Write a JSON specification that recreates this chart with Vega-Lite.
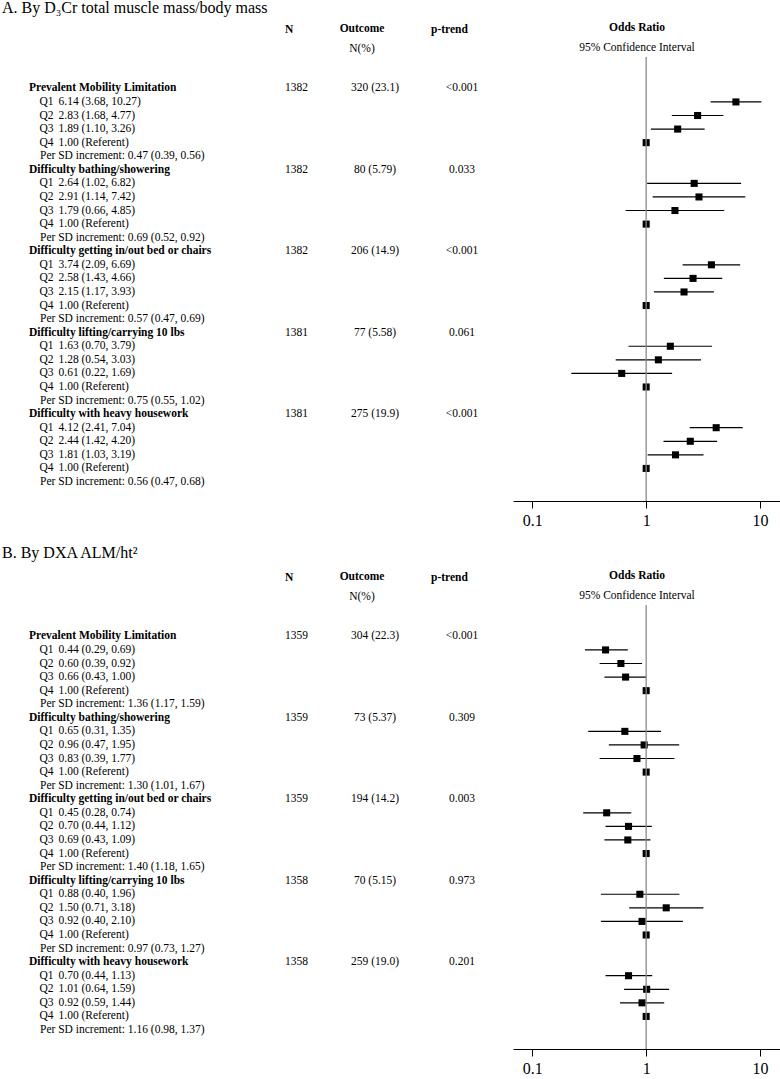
{
  "$schema": "https://vega.github.io/schema/vega-lite/v6.json",
  "padding": {"left": 2, "top": 0, "right": 0, "bottom": 0},
  "config": {
    "font": "Liberation Serif",
    "view": {"stroke": null},
    "text": {"font": "Liberation Serif", "fontSize": 11.5, "color": "black", "baseline": "middle"},
    "title": {"font": "Liberation Serif", "subtitleFont": "Liberation Serif", "color": "black", "subtitleColor": "black", "fontSize": 11.5, "subtitleFontSize": 11.5, "fontWeight": "bold"}
  },
  "datasets": {
    "A": [
      {"id": 1, "type": "h", "label": "Prevalent Mobility Limitation", "n": "1382", "outcome": "320 (23.1)", "p": "<0.001"},
      {"id": 2, "type": "q", "label": "Q1", "ci": "6.14 (3.68, 10.27)", "est": 6.14, "lo": 3.68, "hi": 10.27},
      {"id": 3, "type": "q", "label": "Q2", "ci": "2.83 (1.68, 4.77)", "est": 2.83, "lo": 1.68, "hi": 4.77},
      {"id": 4, "type": "q", "label": "Q3", "ci": "1.89 (1.10, 3.26)", "est": 1.89, "lo": 1.10, "hi": 3.26},
      {"id": 5, "type": "q", "label": "Q4", "ci": "1.00 (Referent)", "est": 1.00},
      {"id": 6, "type": "sd", "label": "Per SD increment: 0.47 (0.39, 0.56)"},
      {"id": 7, "type": "h", "label": "Difficulty bathing/showering", "n": "1382", "outcome": "80 (5.79)", "p": "0.033"},
      {"id": 8, "type": "q", "label": "Q1", "ci": "2.64 (1.02, 6.82)", "est": 2.64, "lo": 1.02, "hi": 6.82},
      {"id": 9, "type": "q", "label": "Q2", "ci": "2.91 (1.14, 7.42)", "est": 2.91, "lo": 1.14, "hi": 7.42},
      {"id": 10, "type": "q", "label": "Q3", "ci": "1.79 (0.66, 4.85)", "est": 1.79, "lo": 0.66, "hi": 4.85},
      {"id": 11, "type": "q", "label": "Q4", "ci": "1.00 (Referent)", "est": 1.00},
      {"id": 12, "type": "sd", "label": "Per SD increment: 0.69 (0.52, 0.92)"},
      {"id": 13, "type": "h", "label": "Difficulty getting in/out bed or chairs", "n": "1382", "outcome": "206 (14.9)", "p": "<0.001"},
      {"id": 14, "type": "q", "label": "Q1", "ci": "3.74 (2.09, 6.69)", "est": 3.74, "lo": 2.09, "hi": 6.69},
      {"id": 15, "type": "q", "label": "Q2", "ci": "2.58 (1.43, 4.66)", "est": 2.58, "lo": 1.43, "hi": 4.66},
      {"id": 16, "type": "q", "label": "Q3", "ci": "2.15 (1.17, 3.93)", "est": 2.15, "lo": 1.17, "hi": 3.93},
      {"id": 17, "type": "q", "label": "Q4", "ci": "1.00 (Referent)", "est": 1.00},
      {"id": 18, "type": "sd", "label": "Per SD increment: 0.57 (0.47, 0.69)"},
      {"id": 19, "type": "h", "label": "Difficulty lifting/carrying 10 lbs", "n": "1381", "outcome": "77 (5.58)", "p": "0.061"},
      {"id": 20, "type": "q", "label": "Q1", "ci": "1.63 (0.70, 3.79)", "est": 1.63, "lo": 0.70, "hi": 3.79},
      {"id": 21, "type": "q", "label": "Q2", "ci": "1.28 (0.54, 3.03)", "est": 1.28, "lo": 0.54, "hi": 3.03},
      {"id": 22, "type": "q", "label": "Q3", "ci": "0.61 (0.22, 1.69)", "est": 0.61, "lo": 0.22, "hi": 1.69},
      {"id": 23, "type": "q", "label": "Q4", "ci": "1.00 (Referent)", "est": 1.00},
      {"id": 24, "type": "sd", "label": "Per SD increment: 0.75 (0.55, 1.02)"},
      {"id": 25, "type": "h", "label": "Difficulty with heavy housework", "n": "1381", "outcome": "275 (19.9)", "p": "<0.001"},
      {"id": 26, "type": "q", "label": "Q1", "ci": "4.12 (2.41, 7.04)", "est": 4.12, "lo": 2.41, "hi": 7.04},
      {"id": 27, "type": "q", "label": "Q2", "ci": "2.44 (1.42, 4.20)", "est": 2.44, "lo": 1.42, "hi": 4.20},
      {"id": 28, "type": "q", "label": "Q3", "ci": "1.81 (1.03, 3.19)", "est": 1.81, "lo": 1.03, "hi": 3.19},
      {"id": 29, "type": "q", "label": "Q4", "ci": "1.00 (Referent)", "est": 1.00},
      {"id": 30, "type": "sd", "label": "Per SD increment: 0.56 (0.47, 0.68)"}
    ],
    "B": [
      {"id": 1, "type": "h", "label": "Prevalent Mobility Limitation", "n": "1359", "outcome": "304 (22.3)", "p": "<0.001"},
      {"id": 2, "type": "q", "label": "Q1", "ci": "0.44 (0.29, 0.69)", "est": 0.44, "lo": 0.29, "hi": 0.69},
      {"id": 3, "type": "q", "label": "Q2", "ci": "0.60 (0.39, 0.92)", "est": 0.60, "lo": 0.39, "hi": 0.92},
      {"id": 4, "type": "q", "label": "Q3", "ci": "0.66 (0.43, 1.00)", "est": 0.66, "lo": 0.43, "hi": 1.00},
      {"id": 5, "type": "q", "label": "Q4", "ci": "1.00 (Referent)", "est": 1.00},
      {"id": 6, "type": "sd", "label": "Per SD increment: 1.36 (1.17, 1.59)"},
      {"id": 7, "type": "h", "label": "Difficulty bathing/showering", "n": "1359", "outcome": "73 (5.37)", "p": "0.309"},
      {"id": 8, "type": "q", "label": "Q1", "ci": "0.65 (0.31, 1.35)", "est": 0.65, "lo": 0.31, "hi": 1.35},
      {"id": 9, "type": "q", "label": "Q2", "ci": "0.96 (0.47, 1.95)", "est": 0.96, "lo": 0.47, "hi": 1.95},
      {"id": 10, "type": "q", "label": "Q3", "ci": "0.83 (0.39, 1.77)", "est": 0.83, "lo": 0.39, "hi": 1.77},
      {"id": 11, "type": "q", "label": "Q4", "ci": "1.00 (Referent)", "est": 1.00},
      {"id": 12, "type": "sd", "label": "Per SD increment: 1.30 (1.01, 1.67)"},
      {"id": 13, "type": "h", "label": "Difficulty getting in/out bed or chairs", "n": "1359", "outcome": "194 (14.2)", "p": "0.003"},
      {"id": 14, "type": "q", "label": "Q1", "ci": "0.45 (0.28, 0.74)", "est": 0.45, "lo": 0.28, "hi": 0.74},
      {"id": 15, "type": "q", "label": "Q2", "ci": "0.70 (0.44, 1.12)", "est": 0.70, "lo": 0.44, "hi": 1.12},
      {"id": 16, "type": "q", "label": "Q3", "ci": "0.69 (0.43, 1.09)", "est": 0.69, "lo": 0.43, "hi": 1.09},
      {"id": 17, "type": "q", "label": "Q4", "ci": "1.00 (Referent)", "est": 1.00},
      {"id": 18, "type": "sd", "label": "Per SD increment: 1.40 (1.18, 1.65)"},
      {"id": 19, "type": "h", "label": "Difficulty lifting/carrying 10 lbs", "n": "1358", "outcome": "70 (5.15)", "p": "0.973"},
      {"id": 20, "type": "q", "label": "Q1", "ci": "0.88 (0.40, 1.96)", "est": 0.88, "lo": 0.40, "hi": 1.96},
      {"id": 21, "type": "q", "label": "Q2", "ci": "1.50 (0.71, 3.18)", "est": 1.50, "lo": 0.71, "hi": 3.18},
      {"id": 22, "type": "q", "label": "Q3", "ci": "0.92 (0.40, 2.10)", "est": 0.92, "lo": 0.40, "hi": 2.10},
      {"id": 23, "type": "q", "label": "Q4", "ci": "1.00 (Referent)", "est": 1.00},
      {"id": 24, "type": "sd", "label": "Per SD increment: 0.97 (0.73, 1.27)"},
      {"id": 25, "type": "h", "label": "Difficulty with heavy housework", "n": "1358", "outcome": "259 (19.0)", "p": "0.201"},
      {"id": 26, "type": "q", "label": "Q1", "ci": "0.70 (0.44, 1.13)", "est": 0.70, "lo": 0.44, "hi": 1.13},
      {"id": 27, "type": "q", "label": "Q2", "ci": "1.01 (0.64, 1.59)", "est": 1.01, "lo": 0.64, "hi": 1.59},
      {"id": 28, "type": "q", "label": "Q3", "ci": "0.92 (0.59, 1.44)", "est": 0.92, "lo": 0.59, "hi": 1.44},
      {"id": 29, "type": "q", "label": "Q4", "ci": "1.00 (Referent)", "est": 1.00},
      {"id": 30, "type": "sd", "label": "Per SD increment: 1.16 (0.98, 1.37)"}
    ]
  },
  "vconcat": [
    {
      "title": {"text": "A. By D₃Cr total muscle mass/body mass", "anchor": "start", "fontSize": 16, "fontWeight": "normal", "offset": 6, "dx": -27},
      "data": {"name": "A"},
      "spacing": 0,
      "bounds": "flush",
      "hconcat": [
        {
          "width": 256, "height": 444,
          "encoding": {
            "y": {"field": "id", "type": "quantitative", "axis": null, "scale": {"domain": [-1.31, 31.4], "reverse": true, "nice": false, "zero": false}},
            "x": {"datum": 0, "type": "quantitative", "axis": null, "scale": {"domain": [0, 1]}}
          },
          "layer": [
            {"transform": [{"filter": "datum.type == 'h'"}], "mark": {"type": "text", "align": "left", "fontWeight": "bold"}, "encoding": {"text": {"field": "label"}}},
            {"transform": [{"filter": "datum.type == 'q'"}], "mark": {"type": "text", "align": "left", "dx": 10.5}, "encoding": {"text": {"field": "label"}}},
            {"transform": [{"filter": "datum.type == 'q'"}], "mark": {"type": "text", "align": "left", "dx": 29.5}, "encoding": {"text": {"field": "ci"}}},
            {"transform": [{"filter": "datum.type == 'sd'"}], "mark": {"type": "text", "align": "left", "dx": 11}, "encoding": {"text": {"field": "label"}}}
          ]
        },
        {
          "width": 64, "height": 444,
          "title": {"text": "N", "anchor": "start", "offset": 22},
          "transform": [{"filter": "datum.type == 'h'"}],
          "mark": {"type": "text", "align": "left"},
          "encoding": {
            "y": {"field": "id", "type": "quantitative", "axis": null, "scale": {"domain": [-1.31, 31.4], "reverse": true, "nice": false, "zero": false}},
            "x": {"datum": 0, "type": "quantitative", "axis": null, "scale": {"domain": [0, 1]}},
            "text": {"field": "n"}
          }
        },
        {
          "width": 26, "height": 444,
          "title": {"text": "Outcome", "subtitle": "N(%)", "anchor": "middle", "offset": 3, "subtitlePadding": 8},
          "transform": [{"filter": "datum.type == 'h'"}],
          "mark": {"type": "text", "align": "center"},
          "encoding": {
            "y": {"field": "id", "type": "quantitative", "axis": null, "scale": {"domain": [-1.31, 31.4], "reverse": true, "nice": false, "zero": false}},
            "x": {"datum": 1, "type": "quantitative", "axis": null, "scale": {"domain": [0, 1]}},
            "text": {"field": "outcome"}
          }
        },
        {
          "width": 138, "height": 444,
          "title": {"text": "p-trend", "anchor": "start", "dx": 56, "offset": 22},
          "transform": [{"filter": "datum.type == 'h'"}],
          "mark": {"type": "text", "align": "center", "dx": 18},
          "encoding": {
            "y": {"field": "id", "type": "quantitative", "axis": null, "scale": {"domain": [-1.31, 31.4], "reverse": true, "nice": false, "zero": false}},
            "text": {"field": "p"}
          }
        },
        {
          "width": 267, "height": 444,
          "title": {"text": "Odds Ratio", "subtitle": "95% Confidence Interval", "anchor": "middle", "dx": -9.5, "offset": 3, "subtitlePadding": 8},
          "encoding": {
            "y": {"field": "id", "type": "quantitative", "axis": null, "scale": {"domain": [-1.31, 31.4], "reverse": true, "nice": false, "zero": false}}
          },
          "layer": [
            {
              "transform": [{"filter": "datum.lo != null"}],
              "mark": {"type": "rule", "color": "black", "strokeWidth": 1.2},
              "encoding": {
                "x": {"field": "lo", "type": "quantitative", "scale": {"type": "log", "domain": [0.0677, 14.97], "nice": false},
                  "axis": {"values": [0.1, 1, 10], "format": "~g", "title": null, "grid": false, "domainColor": "black", "tickColor": "black", "tickSize": 7, "labelFontSize": 16, "labelFont": "Liberation Serif", "labelColor": "black", "labelPadding": 4, "labelFlush": false, "domainWidth": 1, "tickWidth": 1}},
                "x2": {"field": "hi"}
              }
            },
            {
              "transform": [{"filter": "datum.type == 'q'"}],
              "mark": {"type": "square", "filled": true, "color": "black", "size": 50, "opacity": 1},
              "encoding": {"x": {"field": "est", "type": "quantitative"}}
            },
            {
              "transform": [{"filter": "datum.id == 1"}],
              "mark": {"type": "rule", "color": "#8a8a8a", "strokeWidth": 1.3},
              "encoding": {"x": {"datum": 1, "type": "quantitative"}, "y": null}
            }
          ]
        }
      ]
    },
    {
      "title": {"text": "B. By DXA ALM/ht²", "anchor": "start", "fontSize": 16, "fontWeight": "normal", "offset": 9, "dx": -27},
      "data": {"name": "B"},
      "spacing": 0,
      "bounds": "flush",
      "hconcat": [
        {
          "width": 256, "height": 444,
          "encoding": {
            "y": {"field": "id", "type": "quantitative", "axis": null, "scale": {"domain": [-1.31, 31.4], "reverse": true, "nice": false, "zero": false}},
            "x": {"datum": 0, "type": "quantitative", "axis": null, "scale": {"domain": [0, 1]}}
          },
          "layer": [
            {"transform": [{"filter": "datum.type == 'h'"}], "mark": {"type": "text", "align": "left", "fontWeight": "bold"}, "encoding": {"text": {"field": "label"}}},
            {"transform": [{"filter": "datum.type == 'q'"}], "mark": {"type": "text", "align": "left", "dx": 10.5}, "encoding": {"text": {"field": "label"}}},
            {"transform": [{"filter": "datum.type == 'q'"}], "mark": {"type": "text", "align": "left", "dx": 29.5}, "encoding": {"text": {"field": "ci"}}},
            {"transform": [{"filter": "datum.type == 'sd'"}], "mark": {"type": "text", "align": "left", "dx": 11}, "encoding": {"text": {"field": "label"}}}
          ]
        },
        {
          "width": 64, "height": 444,
          "title": {"text": "N", "anchor": "start", "offset": 22},
          "transform": [{"filter": "datum.type == 'h'"}],
          "mark": {"type": "text", "align": "left"},
          "encoding": {
            "y": {"field": "id", "type": "quantitative", "axis": null, "scale": {"domain": [-1.31, 31.4], "reverse": true, "nice": false, "zero": false}},
            "x": {"datum": 0, "type": "quantitative", "axis": null, "scale": {"domain": [0, 1]}},
            "text": {"field": "n"}
          }
        },
        {
          "width": 26, "height": 444,
          "title": {"text": "Outcome", "subtitle": "N(%)", "anchor": "middle", "offset": 3, "subtitlePadding": 8},
          "transform": [{"filter": "datum.type == 'h'"}],
          "mark": {"type": "text", "align": "center"},
          "encoding": {
            "y": {"field": "id", "type": "quantitative", "axis": null, "scale": {"domain": [-1.31, 31.4], "reverse": true, "nice": false, "zero": false}},
            "x": {"datum": 1, "type": "quantitative", "axis": null, "scale": {"domain": [0, 1]}},
            "text": {"field": "outcome"}
          }
        },
        {
          "width": 138, "height": 444,
          "title": {"text": "p-trend", "anchor": "start", "dx": 56, "offset": 22},
          "transform": [{"filter": "datum.type == 'h'"}],
          "mark": {"type": "text", "align": "center", "dx": 18},
          "encoding": {
            "y": {"field": "id", "type": "quantitative", "axis": null, "scale": {"domain": [-1.31, 31.4], "reverse": true, "nice": false, "zero": false}},
            "text": {"field": "p"}
          }
        },
        {
          "width": 267, "height": 444,
          "title": {"text": "Odds Ratio", "subtitle": "95% Confidence Interval", "anchor": "middle", "dx": -9.5, "offset": 3, "subtitlePadding": 8},
          "encoding": {
            "y": {"field": "id", "type": "quantitative", "axis": null, "scale": {"domain": [-1.31, 31.4], "reverse": true, "nice": false, "zero": false}}
          },
          "layer": [
            {
              "transform": [{"filter": "datum.lo != null"}],
              "mark": {"type": "rule", "color": "black", "strokeWidth": 1.2},
              "encoding": {
                "x": {"field": "lo", "type": "quantitative", "scale": {"type": "log", "domain": [0.0677, 14.97], "nice": false},
                  "axis": {"values": [0.1, 1, 10], "format": "~g", "title": null, "grid": false, "domainColor": "black", "tickColor": "black", "tickSize": 7, "labelFontSize": 16, "labelFont": "Liberation Serif", "labelColor": "black", "labelPadding": 4, "labelFlush": false, "domainWidth": 1, "tickWidth": 1}},
                "x2": {"field": "hi"}
              }
            },
            {
              "transform": [{"filter": "datum.type == 'q'"}],
              "mark": {"type": "square", "filled": true, "color": "black", "size": 50, "opacity": 1},
              "encoding": {"x": {"field": "est", "type": "quantitative"}}
            },
            {
              "transform": [{"filter": "datum.id == 1"}],
              "mark": {"type": "rule", "color": "#8a8a8a", "strokeWidth": 1.3},
              "encoding": {"x": {"datum": 1, "type": "quantitative"}, "y": null}
            }
          ]
        }
      ]
    }
  ],
  "spacing": 17
}
